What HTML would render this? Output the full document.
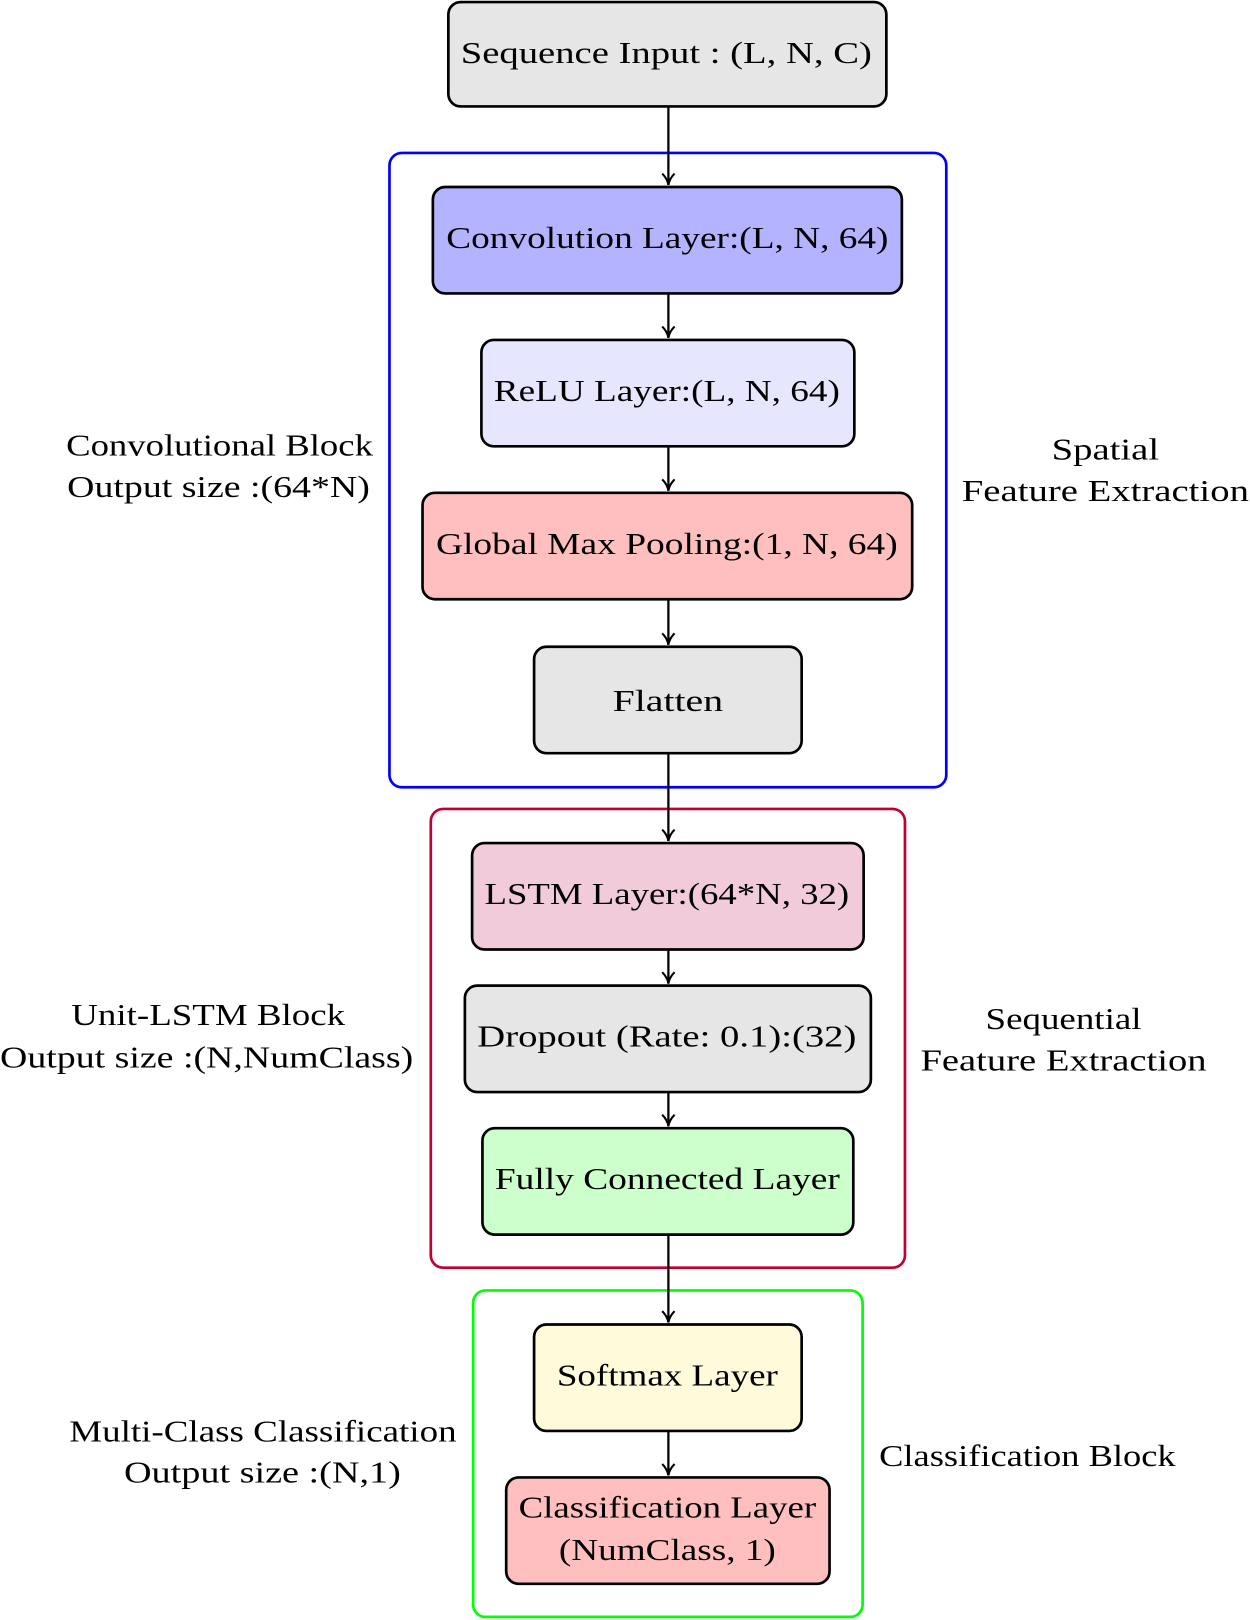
<!DOCTYPE html>
<html><head><style>html,body{margin:0;padding:0;background:#fff;}svg{display:block}</style></head>
<body>
<svg width="1250" height="1620" viewBox="0 0 1210 1568" preserveAspectRatio="none" xmlns="http://www.w3.org/2000/svg">
<defs><marker id="a" markerWidth="14" markerHeight="14" refX="12" refY="7" orient="auto" markerUnits="userSpaceOnUse"><path d="M1,1 Q6,6 12,7 Q6,8 1,13" fill="none" stroke="#000" stroke-width="2"/></marker></defs>
<g fill="none" stroke-width="2.6">
<rect x="377" y="148" width="539" height="614" rx="12" stroke="#0000ff"/>
<rect x="417" y="783" width="459" height="444" rx="12" stroke="#c0002f"/>
<rect x="458" y="1249" width="377" height="316" rx="12" stroke="#00ff00"/>
</g>
<g stroke="#000" stroke-width="2.6">
<rect x="434" y="2" width="424" height="101" rx="12" fill="#e6e6e6"/>
<rect x="419" y="181" width="454" height="103" rx="12" fill="#b3b3ff"/>
<rect x="466" y="329" width="361" height="103" rx="12" fill="#e6e6ff"/>
<rect x="409" y="477" width="474" height="103" rx="12" fill="#ffbfbf"/>
<rect x="517" y="626" width="259" height="103" rx="12" fill="#e6e6e6"/>
<rect x="457" y="816" width="379" height="103" rx="12" fill="#f2cbdb"/>
<rect x="450" y="954" width="393" height="103" rx="12" fill="#e6e6e6"/>
<rect x="467" y="1092" width="359" height="103" rx="12" fill="#ccffcc"/>
<rect x="517" y="1282" width="259" height="103" rx="12" fill="#fffad9"/>
<rect x="490" y="1430" width="313" height="103" rx="12" fill="#ffbfbf"/>
</g>
<g stroke="#000" stroke-width="2.2" marker-end="url(#a)">
<line x1="647" y1="104" x2="647" y2="179"/>
<line x1="647" y1="285" x2="647" y2="327"/>
<line x1="647" y1="433" x2="647" y2="475"/>
<line x1="647" y1="581" x2="647" y2="624"/>
<line x1="647" y1="730" x2="647" y2="814"/>
<line x1="647" y1="920" x2="647" y2="952"/>
<line x1="647" y1="1058" x2="647" y2="1090"/>
<line x1="647" y1="1196" x2="647" y2="1280"/>
<line x1="647" y1="1386" x2="647" y2="1428"/>
</g>
<g font-family="'Liberation Serif',serif" font-size="30" text-anchor="middle" fill="#000" lengthAdjust="spacingAndGlyphs">
<text x="645" y="61" textLength="398" lengthAdjust="spacingAndGlyphs">Sequence Input : (L, N, C)</text>
<text x="646" y="240" textLength="428" lengthAdjust="spacingAndGlyphs">Convolution Layer:(L, N, 64)</text>
<text x="645.5" y="388" textLength="335" lengthAdjust="spacingAndGlyphs">ReLU Layer:(L, N, 64)</text>
<text x="645.5" y="536" textLength="447" lengthAdjust="spacingAndGlyphs">Global Max Pooling:(1, N, 64)</text>
<text x="646.5" y="688" textLength="107" lengthAdjust="spacingAndGlyphs">Flatten</text>
<text x="645.5" y="875" textLength="353" lengthAdjust="spacingAndGlyphs">LSTM Layer:(64*N, 32)</text>
<text x="645.5" y="1013" textLength="367" lengthAdjust="spacingAndGlyphs">Dropout (Rate: 0.1):(32)</text>
<text x="646" y="1151" textLength="334" lengthAdjust="spacingAndGlyphs">Fully Connected Layer</text>
<text x="646" y="1341" textLength="214" lengthAdjust="spacingAndGlyphs">Softmax Layer</text>
<text x="646" y="1469" textLength="288" lengthAdjust="spacingAndGlyphs">Classification Layer</text>
<text x="646" y="1510" textLength="210" lengthAdjust="spacingAndGlyphs">(NumClass, 1)</text>
<text x="212.5" y="441" textLength="297" lengthAdjust="spacingAndGlyphs">Convolutional Block</text>
<text x="211.5" y="481" textLength="293" lengthAdjust="spacingAndGlyphs">Output size :(64*N)</text>
<text x="1070" y="445" textLength="104" lengthAdjust="spacingAndGlyphs">Spatial</text>
<text x="1070" y="485" textLength="278" lengthAdjust="spacingAndGlyphs">Feature Extraction</text>
<text x="201.5" y="992" textLength="265" lengthAdjust="spacingAndGlyphs">Unit-LSTM Block</text>
<text x="200" y="1033" textLength="400" lengthAdjust="spacingAndGlyphs">Output size :(N,NumClass)</text>
<text x="1029.5" y="996" textLength="151" lengthAdjust="spacingAndGlyphs">Sequential</text>
<text x="1029.5" y="1036" textLength="277" lengthAdjust="spacingAndGlyphs">Feature Extraction</text>
<text x="254.5" y="1395" textLength="375" lengthAdjust="spacingAndGlyphs">Multi-Class Classification</text>
<text x="254" y="1435" textLength="268" lengthAdjust="spacingAndGlyphs">Output size :(N,1)</text>
<text x="994.5" y="1419" textLength="287" lengthAdjust="spacingAndGlyphs">Classification Block</text>
</g>
</svg>
</body></html>
